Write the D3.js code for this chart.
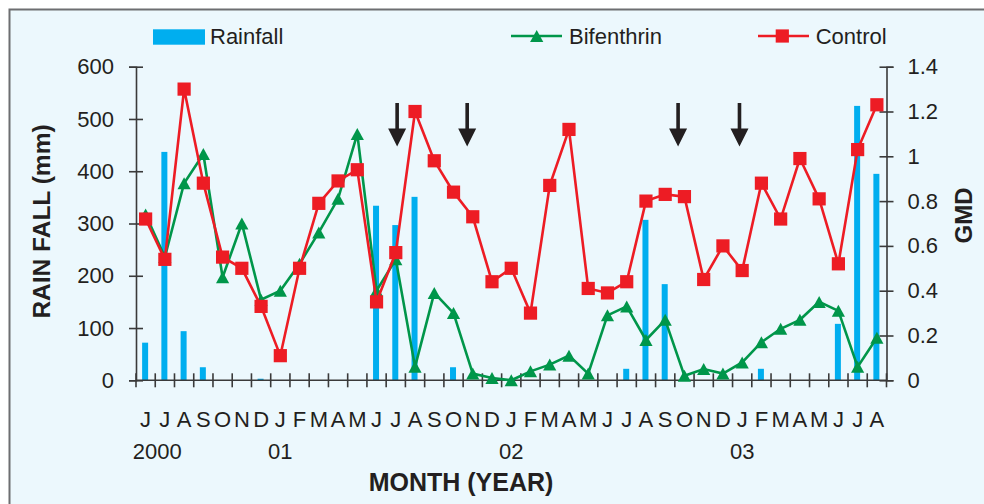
<!DOCTYPE html>
<html><head><meta charset="utf-8">
<script src="https://cdn.jsdelivr.net/npm/d3@7"></script>
<style>body{margin:0;background:#fff}svg{display:block}text{font-family:"Liberation Sans",Arial,Helvetica,sans-serif;fill:#231f20}</style>
</head><body><svg id="c" width="984" height="504"></svg>
<script>
const months = ["J","J","A","S","O","N","D","J","F","M","A","M","J","J","A","S","O","N","D","J","F","M","A","M","J","J","A","S","O","N","D","J","F","M","A","M","J","J","A"];
const years = ["2000","01","02","03"];
const yearPos = [0.6, 7, 19, 31];
const rainfall = [72,437,94,25,0,0,3,0,0,0,0,0,334,297,351,0,25,0,0,0,0,0,0,0,0,22,307,184,0,0,0,0,22,0,0,0,108,525,395];
const bifenthrin = [0.74,0.55,0.88,1.01,0.46,0.70,0.36,0.40,0.52,0.66,0.81,1.10,0.40,0.54,0.06,0.39,0.30,0.03,0.01,0.00,0.04,0.07,0.11,0.03,0.29,0.33,0.18,0.27,0.02,0.05,0.03,0.08,0.17,0.23,0.27,0.35,0.31,0.06,0.19];
const control = [0.72,0.54,1.30,0.88,0.55,0.50,0.33,0.11,0.50,0.79,0.89,0.94,0.35,0.57,1.20,0.98,0.84,0.73,0.44,0.50,0.30,0.87,1.12,0.41,0.39,0.44,0.80,0.83,0.82,0.45,0.60,0.49,0.88,0.72,0.99,0.81,0.52,1.03,1.23];
const rainTicks = [0,100,200,300,400,500,600];
const gmdTicks = [0,0.2,0.4,0.6,0.8,1,1.2,1.4];
const arrowMonths = [13.07,16.71,27.67,30.86];
const seriesNames = ["Rainfall","Bifenthrin","Control"];

const svg = d3.select("#c");
const X0 = 136, X1 = 886.5, Y0 = 380.3, YT = 66.7;
const ink = "#231f20", axisCol = "#3a3a3a";
const cRain = "#00aeef", cBif = "#00964a", cCon = "#ed1c24";

svg.append("rect").attr("x",9.5).attr("y",9.5).attr("width",990).attr("height",510)
  .attr("fill","#ecf8fd").attr("stroke","#6d6e71").attr("stroke-width",2);

const xb = d3.scaleLinear().domain([0, months.length]).range([X0, X1]);
const xc = i => xb(i + 0.5);
const yL = d3.scaleLinear().domain([0,600]).range([Y0, YT]);
const yR = d3.scaleLinear().domain([0,1.4]).range([Y0, YT]);

// bars
svg.append("g").selectAll("rect").data(rainfall).join("rect")
  .attr("x",(d,i)=>xc(i)-3.5).attr("width",6)
  .attr("y",d=>yL(d)).attr("height",d=>Y0-yL(d)).attr("fill",cRain);

// axes
const ax = svg.append("g");
const fmtR = d => d3.format("~g")(d);
const gl = ax.append("g").attr("transform",`translate(${X0},0)`)
  .call(d3.axisLeft(yL).tickValues(rainTicks).tickSizeOuter(0).tickSize(7).tickPadding(15));
const gr = ax.append("g").attr("transform",`translate(${X1},0)`)
  .call(d3.axisRight(yR).tickValues(gmdTicks).tickSizeOuter(0).tickSize(7).tickPadding(14).tickFormat(fmtR));
[gl,gr].forEach(g=>{
  g.select(".domain").attr("stroke",axisCol).attr("stroke-width",1.6);
  g.selectAll(".tick line").attr("stroke",axisCol).attr("stroke-width",1.6).attr("x1",-7).attr("x2",7);
  g.selectAll(".tick text").attr("font-size",22).attr("fill",ink).attr("font-family","Liberation Sans, Arial, sans-serif");
});
ax.append("line").attr("x1",X0).attr("x2",X1).attr("y1",Y0).attr("y2",Y0).attr("stroke",axisCol).attr("stroke-width",1.6);
ax.selectAll(".xt").data(d3.range(months.length+1)).join("line").attr("class","xt")
  .attr("x1",d=>xb(d)).attr("x2",d=>xb(d)).attr("y1",Y0-7).attr("y2",Y0+7)
  .attr("stroke",axisCol).attr("stroke-width",1.6);

// month & year labels
svg.append("g").selectAll("text").data(months).join("text")
  .attr("x",(d,i)=>xc(i)).attr("y",427).attr("text-anchor","middle").attr("font-size",22).text(d=>d);
svg.append("g").selectAll("text").data(years).join("text")
  .attr("x",(d,i)=>xc(yearPos[i])).attr("y",459).attr("text-anchor","middle").attr("font-size",22).text(d=>d);

// titles
svg.append("text").attr("x",461).attr("y",491).attr("text-anchor","middle").attr("font-size",25).attr("font-weight","bold").text("MONTH (YEAR)");
svg.append("text").attr("transform","translate(50,221.5) rotate(-90)").attr("text-anchor","middle").attr("font-size",24.5).attr("font-weight","bold").text("RAIN FALL (mm)");
svg.append("text").attr("transform","translate(972,215.5) rotate(-90)").attr("text-anchor","middle").attr("font-size",24).attr("font-weight","bold").text("GMD");

// lines
const line = d3.line().x((d,i)=>xc(i)).y(d=>yR(d));
const tri = "M0,-6L6.6,6L-6.6,6Z";
svg.append("path").datum(bifenthrin).attr("d",line).attr("fill","none").attr("stroke",cBif).attr("stroke-width",2.6);
svg.append("g").selectAll("path").data(bifenthrin).join("path")
  .attr("transform",(d,i)=>`translate(${xc(i)},${yR(d)})`).attr("d",tri).attr("fill",cBif);
svg.append("path").datum(control).attr("d",line).attr("fill","none").attr("stroke",cCon).attr("stroke-width",2.6);
svg.append("g").selectAll("rect").data(control).join("rect")
  .attr("x",(d,i)=>xc(i)-6.6).attr("y",d=>yR(d)-6.6).attr("width",13.2).attr("height",13.2).attr("fill",cCon);

// arrows
svg.append("g").selectAll("path").data(arrowMonths).join("path")
  .attr("transform",d=>`translate(${xc(d)},0)`)
  .attr("d","M-1.8,103L1.8,103L1.8,128.5L9,128.5L0,146.5L-9,128.5L-1.8,128.5Z").attr("fill",ink);

// legend
const lg = svg.append("g");
lg.append("rect").attr("x",153).attr("y",29.3).attr("width",52).attr("height",15.4).attr("fill",cRain);
lg.append("text").attr("x",210).attr("y",44).attr("font-size",22).text(seriesNames[0]);
lg.append("line").attr("x1",511).attr("x2",562).attr("y1",36).attr("y2",36).attr("stroke",cBif).attr("stroke-width",2.6);
lg.append("path").attr("transform","translate(536.7,36)").attr("d",tri).attr("fill",cBif);
lg.append("text").attr("x",569).attr("y",44).attr("font-size",22).text(seriesNames[1]);
lg.append("line").attr("x1",758).attr("x2",809).attr("y1",36).attr("y2",36).attr("stroke",cCon).attr("stroke-width",2.6);
lg.append("rect").attr("x",782.3-6.6).attr("y",36-6.6).attr("width",13.2).attr("height",13.2).attr("fill",cCon);
lg.append("text").attr("x",815.7).attr("y",44).attr("font-size",22).text(seriesNames[2]);
</script></body></html>
